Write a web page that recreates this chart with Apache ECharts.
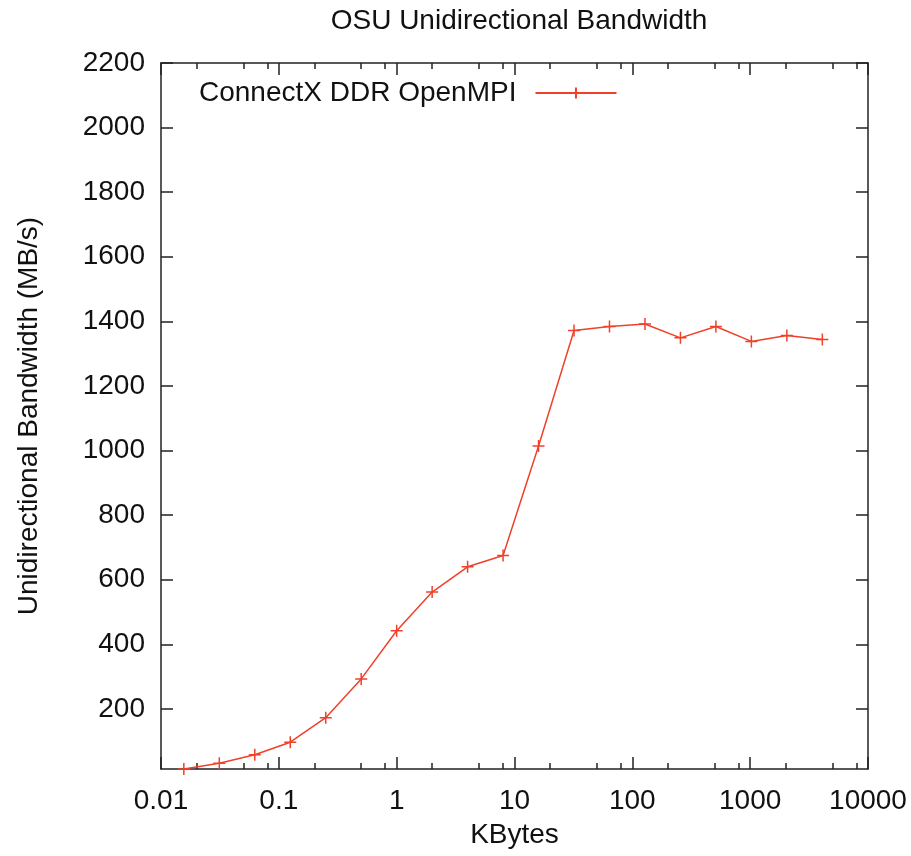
<!DOCTYPE html>
<html>
<head>
<meta charset="utf-8">
<script src="https://cdn.jsdelivr.net/npm/echarts@6/dist/echarts.min.js"></script>
<style>
  html, body { margin: 0; padding: 0; background: #fff; }
  #chart { width: 911px; height: 856px; }
</style>
</head>
<body>
<div id="chart"></div>
<script>
'use strict';

// message sizes (KBytes) and measured bandwidth (MB/s)
var sizesKB = [0.015625, 0.03125, 0.0625, 0.125, 0.25, 0.5, 1, 2, 4, 8, 16, 32, 64, 128, 256, 512, 1024, 2048, 4096];
var bandwidth = [14, 32, 58, 97, 173, 293, 442, 562, 640, 675, 1014, 1372, 1384, 1392, 1349, 1384, 1338, 1356, 1344];

var xMajorTicks = [0.01, 0.1, 1, 10, 100, 1000, 10000];
var xMinorTicks = [0.02, 0.05, 0.08, 0.2, 0.5, 0.8, 2, 5, 8, 20, 50, 80, 200, 500, 800, 2000, 5000, 8000];
var yTicks = [200, 400, 600, 800, 1000, 1200, 1400, 1600, 1800, 2000, 2200];

var seriesName = 'ConnectX DDR OpenMPI';
var red = '#f0402a';
var ink = '#111';
var font = '"Liberation Sans", Arial, sans-serif';
var plusSymbol = 'path://M0,5L10,5M5,0L5,10';

function xAxisOf(position, ticks, len, main) {
    return {
        type: 'log',
        logBase: 10,
        min: 0.01,
        max: 10000,
        position: position,
        axisLine: { show: main, lineStyle: { color: '#222', width: 1.5 } },
        axisTick: { show: true, inside: true, length: len, customValues: ticks,
            lineStyle: { color: '#222', width: 1.5 } },
        axisLabel: { show: main && position === 'bottom', customValues: ticks,
            fontSize: 28, fontFamily: font, color: ink, margin: 18,
            formatter: function(v) { return String(v); } },
        splitLine: { show: false },
        name: main && position === 'bottom' ? 'KBytes' : '',
        nameLocation: 'middle',
        nameGap: 52,
        nameTextStyle: { fontSize: 28, fontFamily: font, color: ink }
    };
}

function yAxisOf(position) {
    var left = position === 'left';
    return {
        type: 'value',
        min: 14,
        max: 2200,
        position: position,
        axisLine: { show: true, lineStyle: { color: '#222', width: 1.5 } },
        axisTick: { show: true, inside: true, length: 12, customValues: yTicks,
            lineStyle: { color: '#222', width: 1.5 } },
        axisLabel: { show: left, customValues: yTicks, fontSize: 28,
            fontFamily: font, color: ink, margin: 16,
            formatter: function(v) { return String(v); } },
        splitLine: { show: false },
        name: left ? 'Unidirectional Bandwidth (MB/s)' : '',
        nameLocation: 'middle',
        nameGap: 118,
        nameTextStyle: { fontSize: 28, fontFamily: font, color: ink }
    };
}

var chart = echarts.init(document.getElementById('chart'), null, { renderer: 'canvas' });

chart.setOption({
    backgroundColor: '#fff',
    animation: false,
    title: {
        text: 'OSU Unidirectional Bandwidth',
        left: 514,
        textAlign: 'center',
        top: 2,
        textStyle: { fontSize: 28, fontWeight: 'normal', fontFamily: font, color: ink }
    },
    legend: {
        data: [seriesName],
        left: 194,
        top: 74,
        align: 'right',
        itemWidth: 81,
        itemHeight: 14,
        textStyle: { fontSize: 28, fontFamily: font, color: ink, padding: [0, 14, 0, 0] }
    },
    grid: { left: 161, right: 43, top: 63, bottom: 87, containLabel: false },
    xAxis: [
        xAxisOf('bottom', xMajorTicks, 12, true),
        xAxisOf('bottom', xMinorTicks, 6, false),
        xAxisOf('top', xMajorTicks, 12, true),
        xAxisOf('top', xMinorTicks, 6, false)
    ],
    yAxis: [yAxisOf('left'), yAxisOf('right')],
    series: [{
        name: seriesName,
        type: 'line',
        xAxisIndex: 0,
        yAxisIndex: 0,
        data: sizesKB.map(function(s, i) { return [s, bandwidth[i]]; }),
        symbol: plusSymbol,
        symbolSize: 12,
        showAllSymbol: true,
        lineStyle: { color: red, width: 1.5 },
        itemStyle: { color: red, borderColor: red, borderWidth: 1.5 }
    }]
});
</script>
</body>
</html>
